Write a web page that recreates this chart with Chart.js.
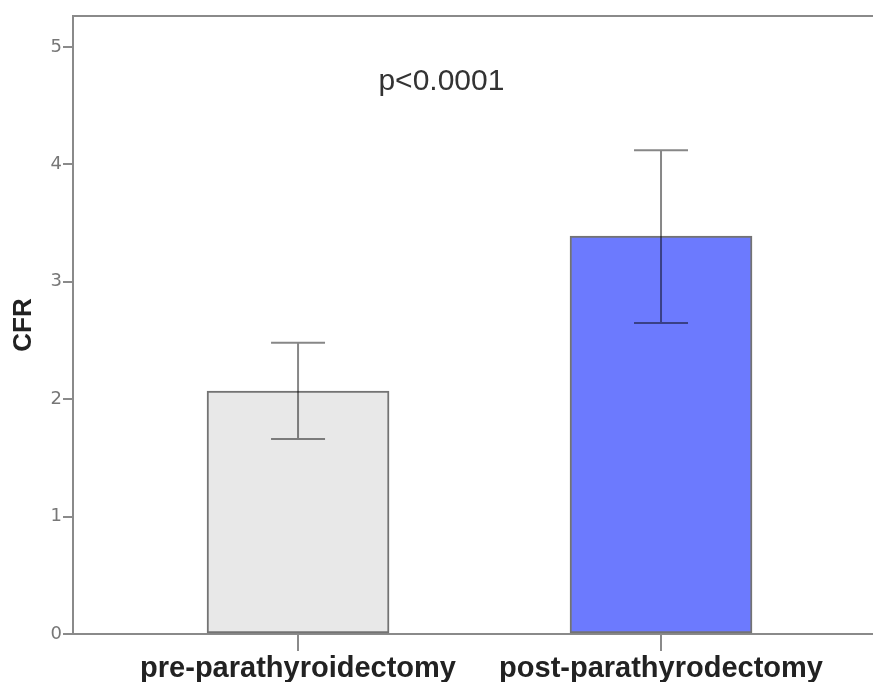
<!DOCTYPE html>
<html>
<head>
<meta charset="utf-8">
<script src="https://cdn.jsdelivr.net/npm/chart.js@4"></script>
<style>
  html, body { margin: 0; padding: 0; background: #fff; overflow: hidden; }
  #wrap { width: 873px; height: 682px; position: relative; }
</style>
</head>
<body>
<div id="wrap"><canvas id="c"></canvas></div>
<script>
// Coronary flow reserve before and after surgery (mean with error bars)
const categories = ['pre-parathyroidectomy', 'post-parathyrodectomy'];
const cfrMean = [2.07, 3.39];
const cfrLow = [1.66, 2.65];
const cfrHigh = [2.48, 4.12];
const barColors = ['#e8e8e8', '#6c7afe'];
const yTicks = [0, 1, 2, 3, 4, 5];
const pValueText = 'p<0.0001';

const catPos = categories.map((_, i) => i + 1);

// Whiskers with caps, drawn from the low/high arrays through the scales
const errorBars = {
  id: 'errorBars',
  afterDatasetsDraw(chart) {
    const { ctx, scales: { x, y } } = chart;
    ctx.save();
    ctx.strokeStyle = 'rgba(0,0,0,0.47)';
    ctx.lineWidth = 2;
    const capHalf = 27;
    catPos.forEach((pos, i) => {
      const px = x.getPixelForValue(pos);
      const yl = y.getPixelForValue(cfrLow[i]);
      const yh = y.getPixelForValue(cfrHigh[i]);
      ctx.beginPath();
      ctx.moveTo(px, yl); ctx.lineTo(px, yh);
      ctx.moveTo(px - capHalf, yh); ctx.lineTo(px + capHalf, yh);
      ctx.moveTo(px - capHalf, yl); ctx.lineTo(px + capHalf, yl);
      ctx.stroke();
    });
    ctx.restore();
  }
};

// Top frame line and the significance note
const frameAndNote = {
  id: 'frameAndNote',
  afterDraw(chart) {
    const { ctx, chartArea, scales: { x, y } } = chart;
    ctx.save();
    ctx.strokeStyle = '#8a8a8a';
    ctx.lineWidth = 2;
    ctx.beginPath();
    ctx.moveTo(chartArea.left, chartArea.top);
    ctx.lineTo(chartArea.right, chartArea.top);
    ctx.stroke();
    ctx.fillStyle = '#333';
    ctx.font = '30px "Liberation Sans", Arial, sans-serif';
    ctx.textAlign = 'center';
    ctx.textBaseline = 'middle';
    ctx.fillText(pValueText, x.getPixelForValue(1.395), y.getPixelForValue(4.7));
    ctx.restore();
  }
};

new Chart(document.getElementById('c'), {
  type: 'bar',
  data: {
    datasets: [{
      data: catPos.map((p, i) => ({ x: p, y: cfrMean[i] })),
      backgroundColor: barColors,
      borderColor: 'rgba(0,0,0,0.55)',
      borderWidth: 2,
      borderSkipped: false,
      barThickness: 182
    }]
  },
  options: {
    responsive: true,
    maintainAspectRatio: false,
    animation: false,
    layout: { padding: { top: 16, right: 0, left: 0, bottom: 0 } },
    plugins: { legend: { display: false }, tooltip: { enabled: false } },
    scales: {
      x: {
        type: 'linear',
        offset: false,
        bounds: 'data',
        min: 0.38,
        max: 2.584,
        afterBuildTicks(axis) { axis.ticks = catPos.map(v => ({ value: v })); },
        afterFit(axis) { axis.height = 48; },
        grid: { display: true, offset: false, drawOnChartArea: false, drawTicks: true, tickLength: 17, color: '#8a8a8a', lineWidth: 2 },
        border: { display: true, color: '#8a8a8a', width: 2 },
        ticks: {
          autoSkip: false,
          maxRotation: 0,
          padding: 3,
          color: '#222',
          font: { family: '"Liberation Sans", Arial, sans-serif', size: 29, weight: 'bold', lineHeight: 1.0 },
          callback: (v) => categories[catPos.indexOf(v)] ?? ''
        }
      },
      y: {
        min: 0,
        max: 5.264,
        afterBuildTicks(axis) { axis.ticks = yTicks.map(v => ({ value: v })); },
        afterFit(axis) { axis.width = 73; },
        grid: { display: true, drawOnChartArea: false, drawTicks: true, tickLength: 10, color: '#8a8a8a', lineWidth: 2 },
        border: { display: true, color: '#8a8a8a', width: 2 },
        ticks: {
          padding: 1,
          color: '#777',
          font: { family: '"DejaVu Sans", sans-serif', size: 18 }
        },
        title: {
          display: true,
          text: 'CFR',
          color: '#222',
          padding: { top: 8, bottom: 0 },
          font: { family: '"Liberation Sans", Arial, sans-serif', size: 26, weight: 'bold', lineHeight: 1.2 }
        }
      }
    }
  },
  plugins: [errorBars, frameAndNote]
});
</script>
</body>
</html>
